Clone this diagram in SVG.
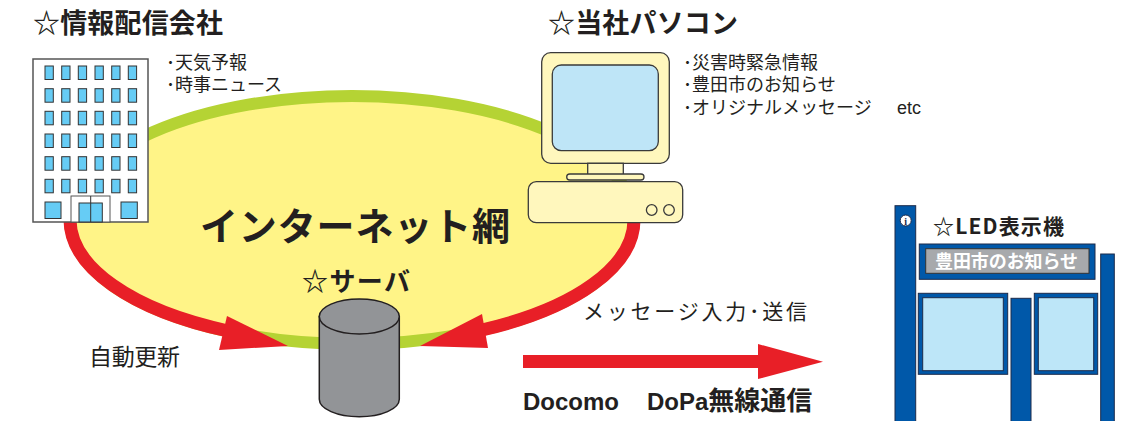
<svg xmlns="http://www.w3.org/2000/svg" width="1129" height="421" viewBox="0 0 1129 421">
  <style>
    .jp { font-family: "Noto Sans CJK JP", "Liberation Sans", sans-serif; fill: #231F20; }
    .b { font-weight: 700; }
    .lat { font-family: "Liberation Sans", "Noto Sans CJK JP", sans-serif; fill: #231F20; }
    .win { fill: #66CCF5; stroke: #333333; stroke-width: 1; }
    .red { fill: none; stroke: #E81F27; stroke-width: 13; }
    .redfill { fill: #E81F27; }
    .blue { fill: #0058A9; stroke: #1C2B4A; stroke-width: 1; }
    .ink { stroke: #231F20; stroke-width: 1.5; }
  </style>
  <defs>
    <rect id="w" class="win" width="8.3" height="13.5"/>
  </defs>
  <rect width="1129" height="421" fill="#FFFFFF"/>

  <!-- internet cloud -->
  <g id="internet">
    <ellipse cx="352" cy="220" rx="282" ry="124" fill="#FFF487" stroke="#B5D334" stroke-width="12"/>
  </g>

  <!-- red flows into the server and the radio link -->
  <g id="connectors">
    <path class="red" d="M 70 220 A 282 124 0 0 0 228 331"/>
    <polygon class="redfill" points="227,316 219,350 288,346"/>
    <path class="red" d="M 634 220 A 282 124 0 0 1 482 330"/>
    <polygon class="redfill" points="482,314 488,348 420,346"/>
    <rect class="redfill" x="523" y="355" width="237" height="13"/>
    <polygon class="redfill" points="758,344 758,379 823,361.7"/>
  </g>

  <!-- provider building -->
  <g id="building">
    <rect x="33" y="59" width="115" height="163" fill="#FFFFFF" stroke="#555555" stroke-width="1.5"/>
    <g>
      <use href="#w" x="45" y="66"/><use href="#w" x="61.7" y="66"/><use href="#w" x="78.3" y="66"/><use href="#w" x="95" y="66"/><use href="#w" x="111.7" y="66"/><use href="#w" x="128.3" y="66"/>
      <use href="#w" x="45" y="88.7"/><use href="#w" x="61.7" y="88.7"/><use href="#w" x="78.3" y="88.7"/><use href="#w" x="95" y="88.7"/><use href="#w" x="111.7" y="88.7"/><use href="#w" x="128.3" y="88.7"/>
      <use href="#w" x="45" y="111.3"/><use href="#w" x="61.7" y="111.3"/><use href="#w" x="78.3" y="111.3"/><use href="#w" x="95" y="111.3"/><use href="#w" x="111.7" y="111.3"/><use href="#w" x="128.3" y="111.3"/>
      <use href="#w" x="45" y="134"/><use href="#w" x="61.7" y="134"/><use href="#w" x="78.3" y="134"/><use href="#w" x="95" y="134"/><use href="#w" x="111.7" y="134"/><use href="#w" x="128.3" y="134"/>
      <use href="#w" x="45" y="156.7"/><use href="#w" x="61.7" y="156.7"/><use href="#w" x="78.3" y="156.7"/><use href="#w" x="95" y="156.7"/><use href="#w" x="111.7" y="156.7"/><use href="#w" x="128.3" y="156.7"/>
      <use href="#w" x="45" y="179.3"/><use href="#w" x="61.7" y="179.3"/><use href="#w" x="78.3" y="179.3"/><use href="#w" x="95" y="179.3"/><use href="#w" x="111.7" y="179.3"/><use href="#w" x="128.3" y="179.3"/>
    </g>
    <rect class="win" x="45" y="202" width="16" height="16.5"/>
    <rect class="win" x="121" y="202" width="16.3" height="16.5"/>
    <rect x="71" y="196" width="39" height="26" fill="#FFFFFF" stroke="#555555" stroke-width="1"/>
    <rect class="win" x="79" y="203" width="23.3" height="19"/>
    <line x1="90.7" y1="196" x2="90.7" y2="222" stroke="#333333" stroke-width="1"/>
  </g>

  <!-- office PC -->
  <g id="pc" stroke="#3A3A3A" stroke-width="1.3">
    <rect x="541.7" y="52.7" width="127.6" height="110.6" rx="9" fill="#FFF7BD"/>
    <rect x="552.3" y="65" width="106" height="85.7" rx="9" fill="#BEE5F7"/>
    <rect x="587.7" y="163.3" width="35.6" height="11.5" fill="#FFF7BD"/>
    <rect x="566.7" y="174" width="77.3" height="6" rx="3" fill="#FFF7BD"/>
    <rect x="528.3" y="181.7" width="154.4" height="41" rx="8" fill="#FFF7BD"/>
    <circle cx="651.7" cy="210" r="5.3" fill="none"/>
    <circle cx="669" cy="210" r="5.3" fill="none"/>
  </g>

  <!-- server -->
  <g id="server">
    <path class="ink" d="M 319.3 316.5 L 319.3 399.2 A 40 17.5 0 0 0 399.3 399.2 L 399.3 316.5 Z" fill="#929497"/>
    <ellipse class="ink" cx="359.3" cy="316.5" rx="40" ry="17.5" fill="#929497"/>
  </g>

  <!-- LED signboard -->
  <g id="led">
    <rect class="blue" x="895" y="205.7" width="20.7" height="220"/>
    <circle cx="905.7" cy="220.5" r="5.5" fill="#FFFFFF" stroke="#1C2B4A" stroke-width="1"/>
    <text x="905.7" y="224.5" text-anchor="middle" font-family="Liberation Serif, serif" font-size="10" font-weight="700" fill="#1C2B4A">i</text>
    <rect class="blue" x="1100.7" y="254" width="13.6" height="170"/>
    <rect class="blue" x="1011" y="298.3" width="20" height="125"/>
    <rect class="blue" x="919.3" y="244" width="175.7" height="35.3"/>
    <rect x="925.7" y="248.7" width="163.3" height="24.6" fill="#A7A9AC" stroke="#333333" stroke-width="1"/>
    <text class="jp b" x="935" y="268" font-size="18" fill="#FFFFFF" style="fill:#FFFFFF" textLength="143" lengthAdjust="spacing">豊田市のお知らせ</text>
    <rect class="blue" x="918.3" y="293.3" width="89.4" height="81"/>
    <rect x="922.7" y="297.7" width="80.6" height="73" fill="#BDE6F8" stroke="#1C2B4A" stroke-width="1"/>
    <rect class="blue" x="1034.3" y="293.3" width="63.4" height="81"/>
    <rect x="1038.3" y="297.7" width="55.4" height="73" fill="#BDE6F8" stroke="#1C2B4A" stroke-width="1"/>
    <text class="jp b" x="933" y="234" font-size="21" textLength="131" lengthAdjust="spacing">☆LED表示機</text>
  </g>

  <!-- labels -->
  <g id="labels">
    <text class="jp b" x="33" y="33" font-size="27" textLength="190" lengthAdjust="spacing">☆情報配信会社</text>
    <text class="jp" x="166" y="68.5" font-size="18">･天気予報</text>
    <text class="jp" x="166" y="91" font-size="18">･時事ニュース</text>

    <text class="jp b" x="548" y="33" font-size="27" textLength="190" lengthAdjust="spacing">☆当社パソコン</text>
    <text class="jp" x="683" y="68.5" font-size="18">･災害時緊急情報</text>
    <text class="jp" x="683" y="91" font-size="18">･豊田市のお知らせ</text>
    <text class="jp" x="683" y="113.5" font-size="18">･オリジナルメッセージ<tspan class="lat" x="897">etc</tspan></text>

    <text class="jp b" x="200" y="240" font-size="38" textLength="310" lengthAdjust="spacing">インターネット網</text>
    <text class="jp b" x="302" y="291" font-size="26" textLength="108" lengthAdjust="spacing">☆サーバ</text>
    <text class="jp" x="89" y="365" font-size="23" textLength="91" lengthAdjust="spacing">自動更新</text>
    <text class="jp" x="583" y="319" font-size="21" textLength="224" lengthAdjust="spacing">メッセージ入力･送信</text>
    <text class="lat b" x="523" y="410" font-size="24">Docomo<tspan x="647">DoPa</tspan><tspan font-size="26">無線通信</tspan></text>
  </g>
</svg>
